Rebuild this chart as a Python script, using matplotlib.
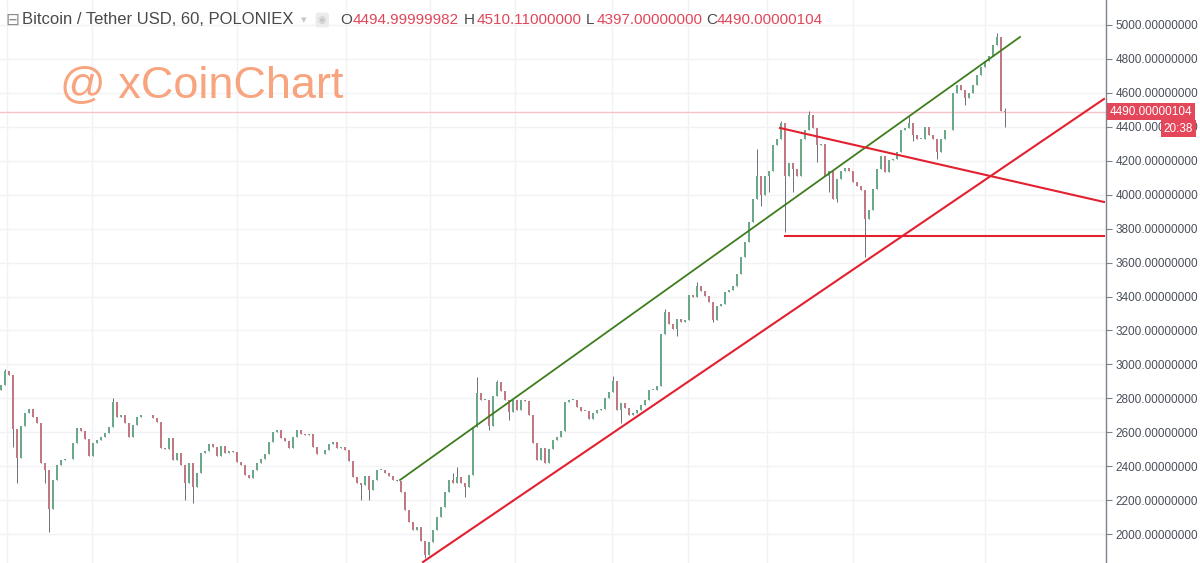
import numpy as np
import matplotlib.pyplot as plt
from matplotlib.transforms import blended_transform_factory

plt.rcParams['font.family'] = ['Liberation Sans', 'DejaVu Sans']

# hourly closes, left to right
closes = [
    2880, 2960, 2940, 2620, 2450, 2640, 2716, 2740, 2690, 2657,
    2420, 2379, 2150, 2320, 2410, 2435, 2440, 2440, 2538, 2627,
    2610, 2560, 2460, 2538, 2556, 2575, 2595, 2630, 2781, 2690,
    2700, 2657, 2570, 2645, 2692, 2700, 2700, 2700, 2686, 2663,
    2510, 2500, 2565, 2438, 2480, 2410, 2300, 2420, 2278, 2361,
    2480, 2490, 2530, 2515, 2460, 2520, 2480, 2490, 2485, 2426,
    2410, 2350, 2330, 2379, 2420, 2445, 2470, 2545, 2604, 2615,
    2565, 2548, 2505, 2574, 2615, 2590, 2585, 2590, 2515, 2470,
    2475, 2497, 2530, 2544, 2509, 2512, 2495, 2430, 2337, 2302,
    2290, 2345, 2260, 2320, 2379, 2380, 2361, 2345, 2320, 2315,
    2250, 2140, 2070, 2024, 2040, 1960, 1880, 1955, 2024, 2100,
    2160, 2250, 2320, 2302, 2337, 2300, 2278, 2350, 2633, 2834,
    2790, 2793, 2640, 2811, 2899, 2845, 2793, 2720, 2793, 2734,
    2790, 2785, 2700, 2538, 2438, 2510, 2420, 2500, 2556, 2574,
    2610, 2780, 2790, 2793, 2751, 2728, 2725, 2680, 2716, 2734,
    2740, 2800, 2840, 2900, 2734, 2770, 2745, 2700, 2716, 2734,
    2760, 2793, 2850, 2852, 2870, 3180, 3308, 3240, 3207, 3266,
    3250, 3260, 3410, 3395, 3462, 3435, 3402, 3370, 3260, 3343,
    3355, 3426, 3440, 3462, 3530, 3630, 3722, 3840, 3976, 4112,
    4000, 4112, 4140, 4290, 4330, 4420, 4112, 4185, 4150, 4112,
    4330, 4380, 4470, 4391, 4290, 4300, 4112, 4140, 3976, 4095,
    4140, 4160, 4140, 4077, 4054, 4030, 3858, 3910, 4036, 4154,
    4230, 4136, 4205, 4213, 4254, 4380, 4391, 4420, 4349, 4330,
    4330, 4400, 4350, 4331, 4254, 4330, 4380, 4380, 4600, 4645,
    4615, 4568, 4597, 4645, 4704, 4755, 4787, 4815, 4882, 4930,
    4495, 4490.00000104,
]
first_open = 2850

# long wicks (candle index, price)
hi_idx = [1, 28, 113, 114, 119, 124, 153, 166, 174, 189, 195, 202, 227, 249, 251]
hi_val = [2975, 2800, 2361, 2397, 2923, 2910, 2929, 3325, 3485, 4272, 4432, 4491, 4467, 4950, 4510.11]
lo_idx = [3, 4, 11, 12, 46, 48, 90, 92, 106, 116, 122, 127, 155, 169, 178,
          190, 192, 196, 198, 204, 207, 209, 216, 228, 234, 241, 251]
lo_val = [2515, 2300, 2300, 2012, 2201, 2183, 2201, 2201, 1858, 2219, 2615, 2674, 2657, 3166, 3249,
          3935, 4018, 3781, 4018, 4195, 4018, 3959, 3633, 4314, 4213, 4527, 4397]

# drawn trend lines (candle index, price)
green_x, green_y = [99.75, 254.75], [2319, 4929]
rise_x, rise_y = [105.5, 275.75], [1836, 4564]
fall_x, fall_y = [194.75, 275.75], [4393, 3957]
flat_x, flat_y = [196.0, 275.75], [3757, 3757]

last_price = 4490.00000104
price_ticks = list(range(2000, 5001, 200))
day_lines = [1.5, 22.75, 59, 86.25, 107.25, 128.5, 152.75, 171.75, 191.5, 213, 246]

title = "Bitcoin / Tether USD, 60, POLONIEX"
ohlc_names = ["O", "H", "L", "C"]
ohlc_vals = ["4494.99999982", "4510.11000000", "4397.00000000", "4490.00000104"]

closes = np.array(closes, dtype=float)
n = len(closes)
idx = np.arange(n)
opens = np.r_[first_open, closes[:-1]]
opens[-1] = 4494.99999982
highs = np.maximum(opens, closes)
lows = np.minimum(opens, closes)
highs[hi_idx] = np.maximum(highs[hi_idx], hi_val)
lows[lo_idx] = np.minimum(lows[lo_idx], lo_val)

up_col, dn_col, wick_col = '#6aa88a', '#c27883', '#6b6f7a'
red = '#e3202f'

fig = plt.figure(figsize=(12, 5.63), dpi=100)
ax = fig.add_axes([0, 0, 1106 / 1200, 1])
ax.set_xlim(-0.25, 276.25)
ax.set_ylim(1830, 5147)

for y in price_ticks:
    ax.axhline(y, color='#f0f2f5', lw=1, zorder=0)
for x in day_lines:
    ax.axvline(x, color='#f0f2f5', lw=1, zorder=0)

up = closes >= opens
ax.vlines(idx, lows, highs, color=wick_col, lw=0.7, zorder=2)
body_h = np.maximum(np.abs(closes - opens), 4)
ax.bar(idx[up], body_h[up], bottom=np.minimum(opens, closes)[up], width=0.45,
       color=up_col, edgecolor='none', zorder=3)
ax.bar(idx[~up], body_h[~up], bottom=np.minimum(opens, closes)[~up], width=0.45,
       color=dn_col, edgecolor='none', zorder=3)

ax.axhline(last_price, color='#f6c3cb', lw=1, zorder=1)

ax.plot(green_x, green_y, color='#3f7d1c', lw=1.3, zorder=4)
ax.plot(rise_x, rise_y, color=red, lw=1.5, zorder=4)
ax.plot(fall_x, fall_y, color=red, lw=1.5, zorder=4)
ax.plot(flat_x, flat_y, color=red, lw=1.5, zorder=4)

for s in ['left', 'top', 'bottom']:
    ax.spines[s].set_visible(False)
ax.spines['right'].set_color('#7d818c')
ax.spines['right'].set_linewidth(1)
ax.set_xticks([])
ax.yaxis.tick_right()
ax.set_yticks(price_ticks)
ax.set_yticklabels([f"{v:.8f}" for v in price_ticks])
ax.tick_params(axis='y', length=4, width=0.8, color='#7d818c', labelsize=8.5,
               labelcolor='#4a4f5a', pad=3)

trans = blended_transform_factory(ax.transAxes, ax.transData)
ax.text(1.003, last_price, f"{last_price:.8f}", transform=trans, ha='left', va='center',
        fontsize=8.5, color='white', clip_on=False, zorder=10,
        bbox=dict(boxstyle='square,pad=0.22', fc='#e5475a', ec='none'))
ax.annotate("20:38", xy=(1.0, last_price), xycoords=trans, xytext=(87, -17),
            textcoords='offset pixels', ha='right', va='center', fontsize=8.5,
            color='white', annotation_clip=False, zorder=10,
            bbox=dict(boxstyle='square,pad=0.22', fc='#e5475a', ec='none'))

# header
hy = 1 - 20 / 563
fig.text(5 / 1200, hy, "\u229f", fontsize=12, color='#8a8a8a', va='center', ha='left',
         family=['DejaVu Sans'])
fig.text(22 / 1200, hy, title, fontsize=12, color='#4a4a4a', va='center', ha='left')
fig.text(301 / 1200, hy, "\u25be", fontsize=8, color='#c8c8c8', va='center', ha='left',
         family=['DejaVu Sans'])
fig.text(318 / 1200, hy, "\u25c9", fontsize=7, color='#c8c8c8', va='center', ha='left',
         family=['DejaVu Sans'],
         bbox=dict(boxstyle='round,pad=0.25', fc='#ececec', ec='none'))
name_x = [340, 464, 586, 706]
val_x = [353, 477, 597, 717]
for nm, v, nx, vx in zip(ohlc_names, ohlc_vals, name_x, val_x):
    fig.text(nx / 1200, hy, nm, fontsize=11, color='#4a4a4a', va='center', ha='left')
    fig.text(vx / 1200, hy, v, fontsize=11, color='#e0475a', va='center', ha='left')

fig.text(60 / 1200, 1 - 87 / 563, "@ xCoinChart", fontsize=32.5, color='#f7a47f',
         va='center', ha='left')

fig.savefig('out.png', dpi=100)
